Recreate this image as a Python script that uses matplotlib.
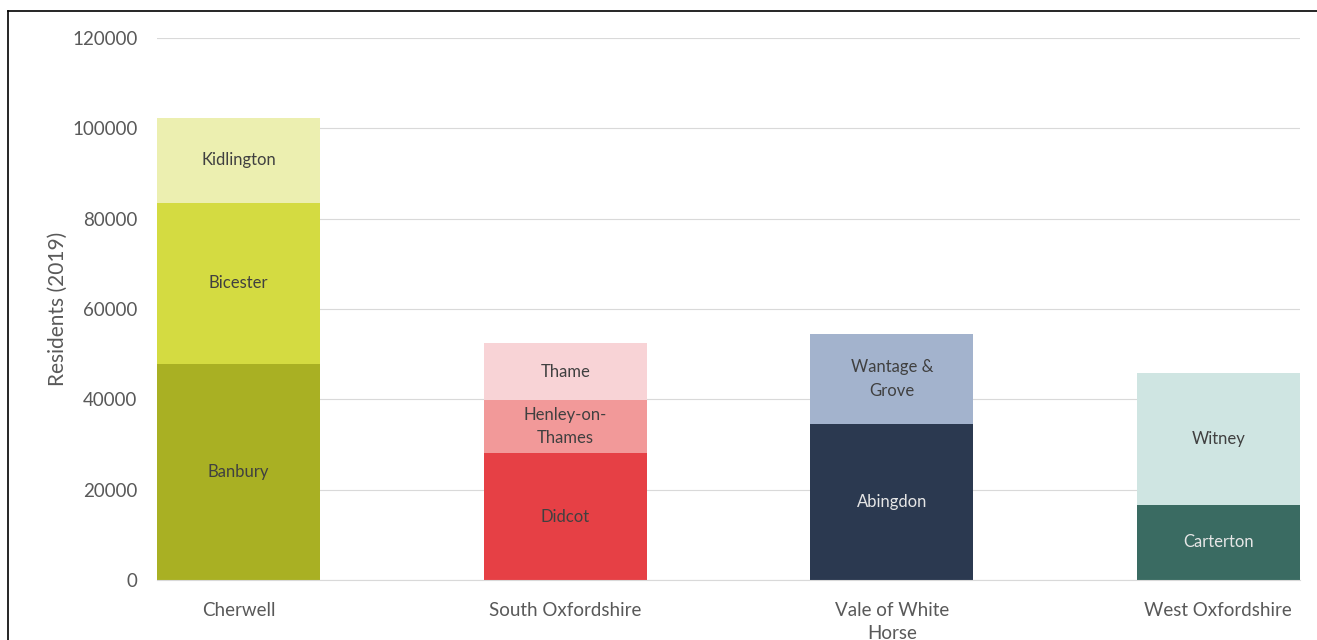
import matplotlib.pyplot as plt
from matplotlib.lines import Line2D

plt.rcParams['font.family'] = ['Lato', 'DejaVu Sans']

# 数据：各区及其城镇人口（2019）
districts = ['Cherwell', 'South Oxfordshire', 'Vale of White\nHorse', 'West Oxfordshire']

base_towns = ['Banbury', 'Didcot', 'Abingdon', 'Carterton']
base_vals = [47800, 28100, 34500, 16600]

mid_towns = ['Bicester', 'Henley-on-\nThames', 'Wantage &\nGrove', 'Witney']
mid_vals = [35700, 11700, 20000, 29200]

top_towns = ['Kidlington', 'Thame', '', '']
top_vals = [18800, 12700, 0, 0]

base_colors = ['#a9b023', '#e64045', '#2b3950', '#3a6b62']
mid_colors = ['#d4db41', '#f29999', '#a3b3cd', '#cfe5e2']
top_colors = ['#ecefb0', '#f8d3d6', '#ffffff', '#ffffff']
base_text = ['#404040', '#404040', '#e6e6e6', '#e6e6e6']

fig = plt.figure(figsize=(13.17, 6.4), dpi=100)
ax = fig.add_axes([0.1192, 0.0938, 0.8679, 0.8468])

x = range(len(districts))
w = 0.5
b1 = ax.bar(x, base_vals, width=w, color=base_colors, zorder=2)
b2 = ax.bar(x, mid_vals, width=w, bottom=base_vals, color=mid_colors, zorder=2)
bottom3 = [a + b for a, b in zip(base_vals, mid_vals)]
b3 = ax.bar(x, top_vals, width=w, bottom=bottom3, color=top_colors, zorder=2)

# 段内标签
for rect, lab, col in zip(b1, base_towns, base_text):
    ax.text(rect.get_x() + rect.get_width() / 2, rect.get_y() + rect.get_height() / 2,
            lab, ha='center', va='center', fontsize=12, color=col, linespacing=1.55)
for bars, labs in ((b2, mid_towns), (b3, top_towns)):
    for rect, lab in zip(bars, labs):
        if not lab:
            continue
        ax.text(rect.get_x() + rect.get_width() / 2, rect.get_y() + rect.get_height() / 2,
                lab, ha='center', va='center', fontsize=12, color='#404040', linespacing=1.55)

ax.set_xlim(-0.25, 3.25)
ax.set_ylim(0, 120000)
ax.set_yticks(range(0, 120001, 20000))
ax.set_xticks(list(x))
ax.set_xticklabels(districts, linespacing=1.45)
ax.tick_params(axis='both', length=0, labelsize=13.5, colors='#595959')
ax.tick_params(axis='y', pad=14)
ax.tick_params(axis='x', pad=16)
ax.grid(axis='y', color='#d9d9d9', linewidth=0.8, zorder=0)
for s in ('top', 'right', 'left'):
    ax.spines[s].set_visible(False)
ax.spines['bottom'].set_color('#d9d9d9')
ax.spines['bottom'].set_zorder(3)
ax.set_ylabel('Residents (2019)', fontsize=15, color='#595959', labelpad=3)

# 截图外框
fig.add_artist(Line2D([8 / 1317, 1.0], [1 - 11 / 640, 1 - 11 / 640], color='black', linewidth=1.2))
fig.add_artist(Line2D([8 / 1317, 8 / 1317], [0, 1 - 11 / 640], color='black', linewidth=1.2))

fig.savefig('out.png', dpi=100)
plt.close(fig)
